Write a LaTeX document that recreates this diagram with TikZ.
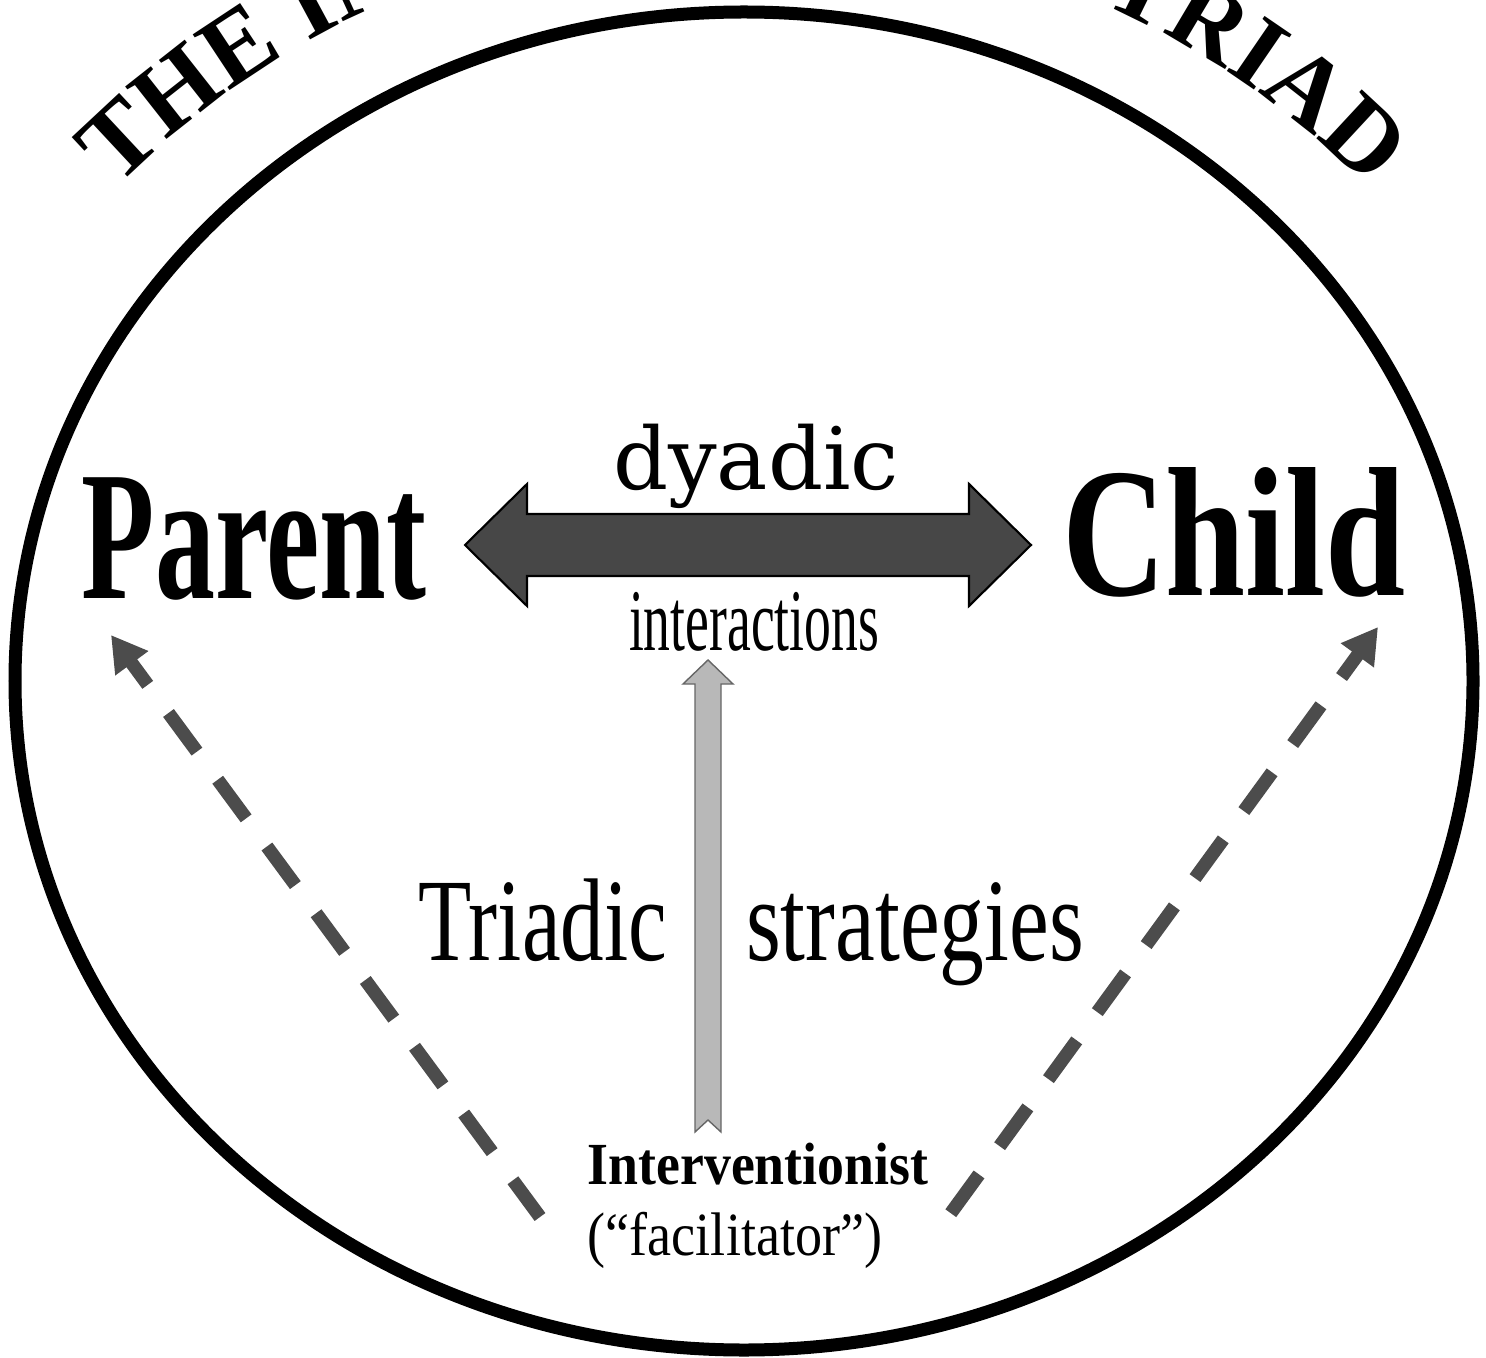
\documentclass[tikz,border=0pt]{standalone}
\usepackage{fontspec}
\setmainfont{Liberation Serif}
\newfontfamily\dyfont{DejaVu Serif}
\usepackage{graphicx}
\usetikzlibrary{arrows.meta,decorations.text}

\tikzset{
  dasharrow/.style={line width=7.6pt, draw=black!70,
    dash pattern=on 27.3pt off 19.9pt, dash phase=10.8pt,
    {Triangle[length=20pt,width=22pt]}-},
  word/.style={inner sep=0pt, anchor=base},
}

\begin{document}
\begin{tikzpicture}[x=0.02cm,y=0.02cm]

	\useasboundingbox (0,0) rectangle (1486,1357);
	\clip (0,0) rectangle (1486,1357);

	% the ring
	\draw[line width=7.4pt] (744,676) ellipse [x radius=729, y radius=669];

	% title on the arc
	\path[decorate, decoration={text along path, text align=center,
		text={|\bfseries\fontsize{58}{60}\selectfont|THE INTERVENTION TRIAD}}]
		(743,548) ++(165:882) arc[start angle=165, end angle=15, radius=882];

	\node[word] (parent) at (254,759) {\fontsize{105}{110}\selectfont\bfseries\scalebox{0.65}[1]{Parent}};
	\node[word] (child) at (1234,762) {\fontsize{105}{110}\selectfont\bfseries\scalebox{0.78}[1]{Child}};

	\node[word] (dyadic) at (756,867) {\dyfont\fontsize{49}{52}\selectfont dyadic};
	\node[word] (inter) at (754,707) {\fontsize{50}{54}\selectfont\scalebox{0.61}[1]{interactions}};

	\node[word] (triadic) at (543,397) {\fontsize{67}{70}\selectfont\scalebox{0.74}[1]{Triadic}};
	\node[word] (strat) at (915,397) {\fontsize{67}{70}\selectfont\scalebox{0.76}[1]{strategies}};

	\node[word] (interv) at (758,173) {\fontsize{34}{36}\selectfont\bfseries\scalebox{0.9}[1]{Interventionist}};
	\node[word] (facil) at (735,102) {\fontsize{35}{38}\selectfont\scalebox{0.88}[1]{(“facilitator”)}};

	% dyadic double arrow
	\coordinate (dyL) at (465,812);
	\draw[fill=black!72, line width=1.2pt] (dyL) -- ++(62,61) -- ++(0,-30) -- ++(442,0) -- ++(0,30)
		-- ++(62,-61) -- ++(-62,-61) -- ++(0,30) -- ++(-442,0) -- ++(0,-30) -- cycle;

	% triadic arrow
	\coordinate (upfoot) at (695,225);
	\draw[fill=black!28, draw=black!60, line width=0.8pt] (upfoot) -- ++(0,448) -- ++(-12,0) -- ++(25,24)
		-- ++(25,-24) -- ++(-12,0) -- ++(0,-448) -- ++(-13,12) -- cycle;

	% dashed arrows from the interventionist
	\coordinate (ptip) at (111,722);
	\coordinate (lfoot) at (540,140);
	\coordinate (ctip) at (1378,730);
	\coordinate (rfoot) at (948,140);
	\draw[dasharrow] (ptip) -- (lfoot);
	\draw[dasharrow] (ctip) -- (rfoot);

\end{tikzpicture}
\end{document}
